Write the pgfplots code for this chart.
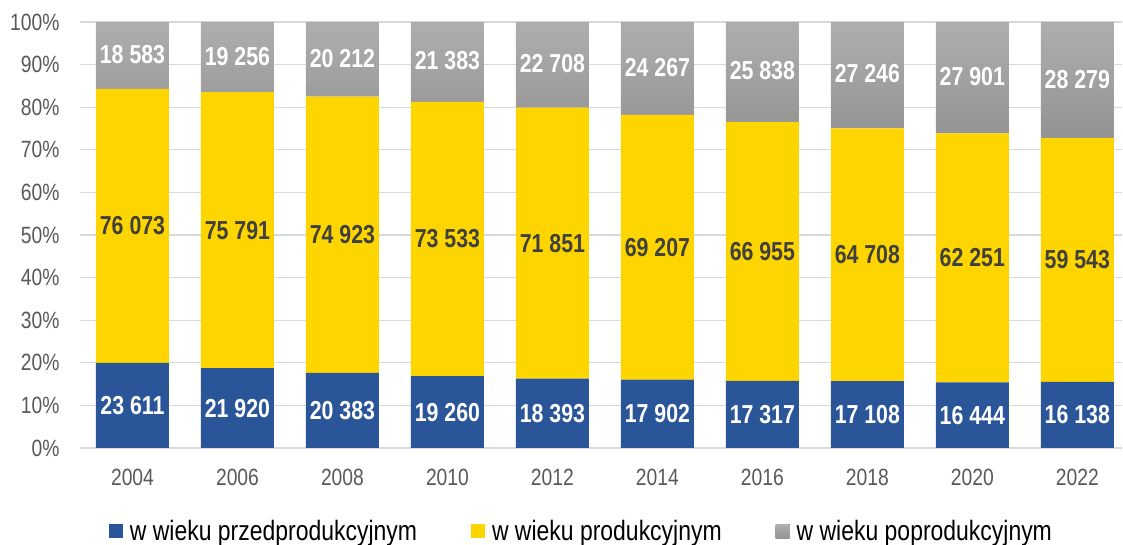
\documentclass[border=0pt]{standalone}
\usepackage{fontspec}
\setmainfont{Liberation Sans}[FakeStretch=0.82]
\usepackage{pgfplots}
\pgfplotsset{compat=1.18}
\definecolor{cBlue}{HTML}{2A5599}
\definecolor{cYellow}{HTML}{FFD500}
\definecolor{cGrayT}{HTML}{AEAEAE}
\definecolor{cGrayB}{HTML}{939393}
\definecolor{cGrid}{HTML}{D9D9D9}
\definecolor{cTick}{HTML}{595959}
\definecolor{cDark}{HTML}{404040}
\begin{document}
\begin{tikzpicture}
\pgfplotsset{
  base/.style={
    scale only axis, width=1042.5pt, height=426pt,
    xmin=-0.5, xmax=9.43, ymin=0, ymax=100,
  }
}
\begin{axis}[base,
  ybar stacked, bar width=73pt,
  axis line style={draw=none},
  major tick length=0pt,
  ymajorgrids, grid style={cGrid, line width=1.3pt},
  ytick={0,10,...,100},
  yticklabels={0\%,10\%,20\%,30\%,40\%,50\%,60\%,70\%,80\%,90\%,100\%},
  xtick={0,...,9},
  xticklabels={2004,2006,2008,2010,2012,2014,2016,2018,2020,2022},
  tick label style={font=\fontsize{23.5}{27}\selectfont, text=cTick},
  yticklabel style={xshift=-17pt},
  xticklabel style={yshift=-18pt},
  legend style={at={(0.481,-0.196)}, anchor=center, draw=none, fill=none,
    legend columns=3, font=\fontsize{28}{32}\selectfont, text=black,
    /tikz/every even column/.append style={column sep=52pt},
    legend cell align=left},
  legend image code/.code={\fill[#1] (0pt,-7pt) rectangle (14pt,7pt); \path (19pt,0pt);},
]
\addplot[fill=cBlue, draw=none] coordinates {
(0,19.96) (1,18.74) (2,17.65) (3,16.87) (4,16.28) (5,16.07) (6,15.73) (7,15.69) (8,15.43) (9,15.52)};
\addplot[fill=cYellow, draw=none] coordinates {
(0,64.32) (1,64.80) (2,64.86) (3,64.40) (4,63.61) (5,62.14) (6,60.81) (7,59.33) (8,58.40) (9,57.27)};
\addplot[top color=cGrayT, bottom color=cGrayB, draw=none] coordinates {
(0,15.72) (1,16.46) (2,17.49) (3,18.73) (4,20.11) (5,21.79) (6,23.46) (7,24.98) (8,26.17) (9,27.21)};
\legend{w wieku przedprodukcyjnym, w wieku produkcyjnym, w wieku poprodukcyjnym}
\end{axis}
\begin{axis}[base, hide axis,
  nodes near coords, point meta=explicit symbolic,
  every node near coord/.append style={anchor=center, font=\bfseries\fontsize{26}{30}\selectfont},
]
\addplot[only marks, mark=none, nodes near coords style={text=white}] coordinates {
(0,9.98) [23 611] (1,9.37) [21 920] (2,8.82) [20 383] (3,8.43) [19 260] (4,8.14) [18 393]
(5,8.04) [17 902] (6,7.86) [17 317] (7,7.84) [17 108] (8,7.71) [16 444] (9,7.76) [16 138]};
\addplot[only marks, mark=none, nodes near coords style={text=cDark}] coordinates {
(0,52.12) [76 073] (1,51.14) [75 791] (2,50.08) [74 923] (3,49.07) [73 533] (4,48.09) [71 851]
(5,47.14) [69 207] (6,46.13) [66 955] (7,45.35) [64 708] (8,44.63) [62 251] (9,44.16) [59 543]};
\addplot[only marks, mark=none, nodes near coords style={text=white}] coordinates {
(0,92.4) [18 583] (1,92.0) [19 256] (2,91.5) [20 212] (3,90.9) [21 383] (4,90.2) [22 708]
(5,89.4) [24 267] (6,88.5) [25 838] (7,87.8) [27 246] (8,87.2) [27 901] (9,86.6) [28 279]};
\end{axis}
\pgfresetboundingbox
\path (-80pt,-97pt) rectangle (1043pt,448pt);
\end{tikzpicture}
\end{document}
